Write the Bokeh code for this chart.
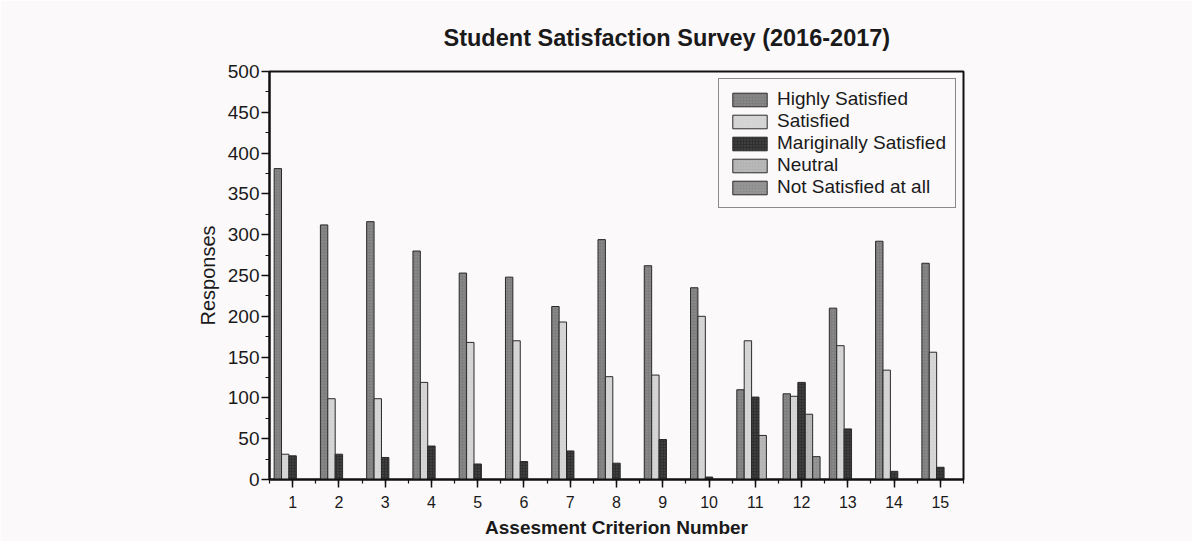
from bokeh.plotting import figure
from bokeh.models import (Range1d, SingleIntervalTicker, Legend, LegendItem,
                          Title, ColumnDataSource)
from bokeh.transform import dodge
from bokeh.embed import file_html
from bokeh.resources import INLINE

# ---- data ----
criteria = list(range(1, 16))
highly_satisfied = [381, 312, 316, 280, 253, 248, 212, 294, 262, 235, 110, 105, 210, 292, 265]
satisfied = [31, 99, 99, 119, 168, 170, 193, 126, 128, 200, 170, 102, 164, 134, 156]
marginally_satisfied = [29, 31, 27, 41, 19, 22, 35, 20, 49, 3, 101, 119, 62, 10, 15]
neutral = [0, 0, 0, 0, 0, 0, 0, 0, 0, 0, 54, 80, 0, 0, 0]
not_satisfied = [0, 0, 0, 0, 0, 0, 0, 0, 0, 0, 0, 28, 0, 0, 0]
series_names = ["Highly Satisfied", "Satisfied", "Mariginally Satisfied",
                "Neutral", "Not Satisfied at all"]

series_keys = ["hs", "s", "ms", "n", "ns"]
colors = ["#7e7e7e", "#d3d3d3", "#303030", "#b3b3b3", "#8f8f8f"]
offsets = [-0.32, -0.16, 0.0, 0.16, 0.32]

source = ColumnDataSource(dict(x=criteria, hs=highly_satisfied, s=satisfied,
                               ms=marginally_satisfied, n=neutral, ns=not_satisfied))

BG = "#fcf9fb"
FONT = "Liberation Sans"

p = figure(width=1192, height=541, output_backend="svg", toolbar_location=None,
           x_range=Range1d(0.5, 15.5), y_range=Range1d(0, 500),
           min_border_left=269, min_border_right=229,
           min_border_top=71, min_border_bottom=62,
           background_fill_color=BG, border_fill_color=BG)

title = Title(text="Student Satisfaction Survey (2016-2017)", align="left", offset=174,
              text_font=FONT, text_font_size="23.5px", text_font_style="bold",
              text_color="#1a1a1a", standoff=42)
p.add_layout(title, "above")

renderers = []
for key, col, off in zip(series_keys, colors, offsets):
    r = p.vbar(x=dodge("x", off), top=key, width=0.16, bottom=0, source=source,
               fill_color=col, line_color="#2a2a2a", line_width=1,
               hatch_pattern="dot", hatch_color="#ffffff", hatch_alpha=0.18,
               hatch_scale=3)
    renderers.append(r)

legend = Legend(items=[LegendItem(label=nm, renderers=[r]) for nm, r in zip(series_names, renderers)],
                location=(449, 271), padding=9, spacing=0,
                glyph_width=43, glyph_height=17, label_standoff=6,
                label_text_font=FONT, label_text_font_size="19px", label_text_color="#1a1a1a",
                border_line_color="#1a1a1a", border_line_width=1.5,
                background_fill_color=BG, background_fill_alpha=1.0)
p.add_layout(legend)

p.xgrid.visible = False
p.ygrid.visible = False
p.outline_line_color = "#111111"
p.outline_line_width = 2

p.xaxis.ticker = SingleIntervalTicker(interval=1, num_minor_ticks=2)
p.yaxis.ticker = SingleIntervalTicker(interval=50, num_minor_ticks=2)

for ax in (p.xaxis[0], p.yaxis[0]):
    ax.axis_line_color = "#111111"
    ax.axis_line_width = 2
    ax.major_tick_line_color = "#111111"
    ax.major_tick_line_width = 1.5
    ax.minor_tick_line_color = "#111111"
    ax.minor_tick_line_width = 1.2
    ax.major_tick_in = 0
    ax.major_tick_out = 8
    ax.minor_tick_in = 0
    ax.minor_tick_out = 4
    ax.major_label_text_font = FONT
    ax.major_label_text_color = "#1a1a1a"
    ax.axis_label_text_font = FONT
    ax.axis_label_text_color = "#1a1a1a"

p.xaxis.major_label_text_font_size = "16px"
p.xaxis.major_label_standoff = 8
p.xaxis.axis_label = "Assesment Criterion Number"
p.xaxis.axis_label_text_font_size = "19px"
p.xaxis.axis_label_text_font_style = "bold"
p.xaxis.axis_label_standoff = 6

p.yaxis.major_label_text_font_size = "19px"
p.yaxis.major_label_standoff = 2
p.yaxis.axis_label = "Responses"
p.yaxis.axis_label_text_font_size = "20px"
p.yaxis.axis_label_text_font_style = "normal"
p.yaxis.axis_label_standoff = 6

open("out.html", "w").write(file_html(p, INLINE))
